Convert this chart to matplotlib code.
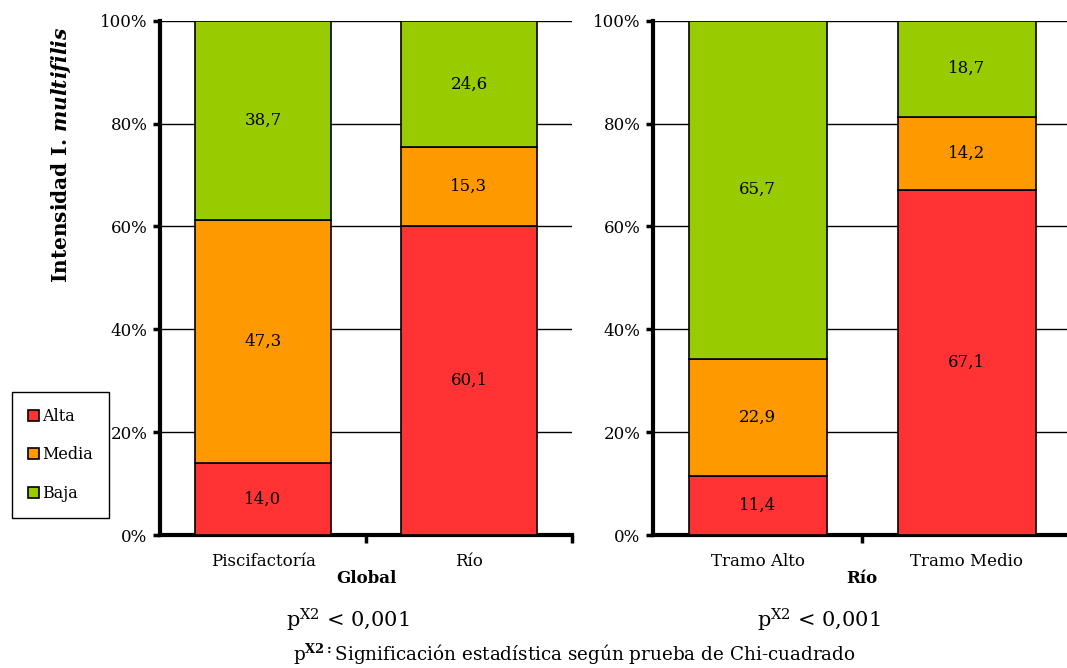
import numpy as np
import matplotlib.pyplot as plt
from matplotlib.patches import Patch

plt.rcParams['font.family'] = 'DejaVu Serif'
plt.rcParams['mathtext.fontset'] = 'custom'
plt.rcParams['mathtext.rm'] = 'DejaVu Serif'
plt.rcParams['mathtext.it'] = 'DejaVu Serif:italic:bold'
plt.rcParams['mathtext.bf'] = 'DejaVu Serif:bold'

# Intensity of I. multifilis (%) per group
global_cats = ['Piscifactoría', 'Río']
global_alta = [14.0, 60.1]
global_media = [47.3, 15.3]
global_baja = [38.7, 24.6]

rio_cats = ['Tramo Alto', 'Tramo Medio']
rio_alta = [11.4, 67.1]
rio_media = [22.9, 14.2]
rio_baja = [65.7, 18.7]

levels = ['Alta', 'Media', 'Baja']
colors = ['#FF3333', '#FF9900', '#99CC00']
y_ticks = [0, 20, 40, 60, 80, 100]

fig = plt.figure(figsize=(10.67, 6.68), dpi=100)
ax1 = fig.add_axes([0.150, 0.199, 0.386, 0.770])
ax2 = fig.add_axes([0.612, 0.199, 0.392, 0.770])


def stacked(ax, cats, series, title):
    x = np.arange(len(cats))
    bottom = np.zeros(len(cats))
    for vals, col in zip(series, colors):
        vals = np.array(vals)
        ax.bar(x, vals, bottom=bottom, width=0.66, color=col,
               edgecolor='black', linewidth=1.2, zorder=3)
        for xi, b, v in zip(x, bottom, vals):
            ax.text(xi, b + v / 2, f'{v:.1f}'.replace('.', ','),
                    ha='center', va='center', fontsize=12, zorder=4)
        bottom += vals
    ax.set_xlim(-0.5, len(cats) - 0.5)
    ax.set_ylim(0, 100)
    ax.set_yticks(y_ticks)
    ax.set_yticklabels([f'{t}%' for t in y_ticks], fontsize=12)
    ax.yaxis.grid(True, color='black', linewidth=1.0, zorder=0)
    ax.set_xticks(x)
    ax.set_xticklabels(cats, fontsize=12)
    ax.set_xticks(np.arange(len(cats)) + 0.5, minor=True)
    ax.tick_params(axis='x', which='major', length=0, pad=13)
    ax.tick_params(axis='x', which='minor', length=6, width=2.5, direction='out')
    ax.tick_params(axis='y', length=5, width=2.5, direction='out', pad=4)
    for s in ['top', 'right']:
        ax.spines[s].set_visible(False)
    for s in ['left', 'bottom']:
        ax.spines[s].set_linewidth(3)
    ax.set_xlabel(title, fontsize=12, fontweight='bold', labelpad=0)


stacked(ax1, global_cats, [global_alta, global_media, global_baja], 'Global')
stacked(ax2, rio_cats, [rio_alta, rio_media, rio_baja], 'Río')

for xp in [0.326, 0.767]:
    fig.text(xp, 0.072, r'p$^{\mathrm{X2}}$ < 0,001', ha='center', va='center',
             fontsize=15)

ax1.set_ylabel(r'Intensidad I. $\mathit{multifilis}$', fontsize=14.5,
               fontweight='bold')
ax1.yaxis.set_label_coords(-0.212, 0.739)

fig.text(0.538, 0.02, r'p$^{\mathbf{X2:}}$Significación estadística según prueba de Chi-cuadrado',
         ha='center', va='center', fontsize=13.2)

handles = [Patch(facecolor=c, edgecolor='black', linewidth=1.2) for c in colors]
fig.legend(handles, levels, loc='lower left', bbox_to_anchor=(0.011, 0.2246),
           borderaxespad=0, fontsize=11.5, frameon=True, fancybox=False,
           edgecolor='black', handlelength=0.7, handleheight=0.7,
           handletextpad=0.2, labelspacing=1.35, borderpad=1.0, framealpha=1)

fig.savefig('out.png', dpi=100)
